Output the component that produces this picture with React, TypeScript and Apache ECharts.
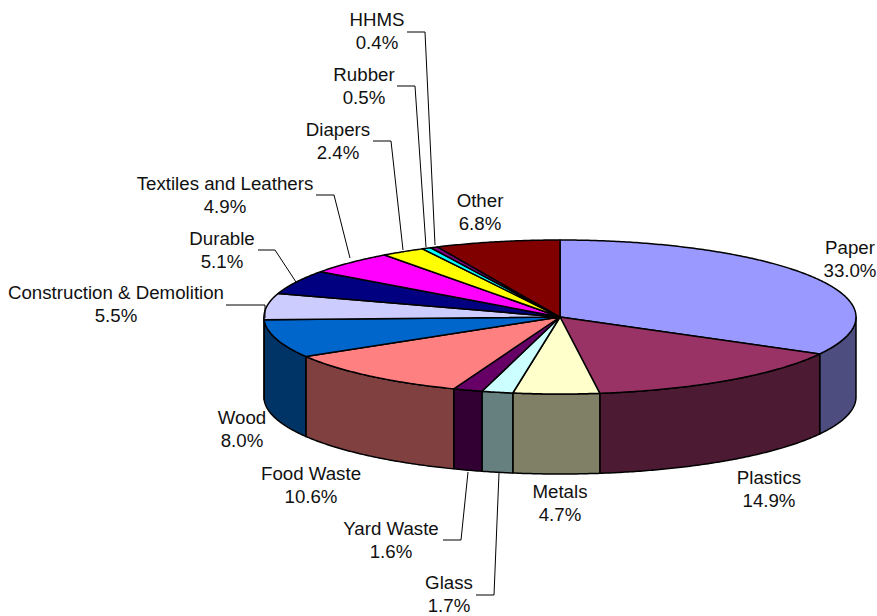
import React, { useEffect, useRef } from "react";
import * as echarts from "echarts";

const categories = ["Paper", "Plastics", "Metals", "Glass", "Yard Waste", "Food Waste", "Wood", "Construction & Demolition", "Durable", "Textiles and Leathers", "Diapers", "Rubber", "HHMS", "Other"];
const shares = [33.0, 14.9, 4.7, 1.7, 1.6, 10.6, 8.0, 5.5, 5.1, 4.9, 2.4, 0.5, 0.4, 6.8];
const topColors = ["#9999FF", "#993366", "#FFFFCC", "#CCFFFF", "#660066", "#FF8080", "#0066CC", "#CCCCFF", "#000080", "#FF00FF", "#FFFF00", "#00FFFF", "#800080", "#800000"];
const wallColors = ["#4D4D80", "#4D1A33", "#808066", "#668080", "#330033", "#804040", "#003366", "#666680", "#000040", "#800080", "#808000", "#008080", "#400040", "#400000"];

// Label layout: [centre x, first line centre y]
const labelAnchors: number[][] = [[850, 247], [769, 477], [560, 491], [449, 582], [391, 528], [311, 473], [242, 417], [116, 292], [222, 238], [225, 183], [338, 129], [364, 74], [377, 19], [480, 200]];
// Leader lines, where the reference has them
const leaders: (number[][] | null)[] = [
  null, null, null,
  [[476, 595], [494, 595], [499, 473]],
  [[443, 540], [461, 540], [468, 472]],
  null, null,
  [[226, 305], [265, 305], [265, 318]],
  [[258, 250], [275, 250], [296, 282]],
  [[316, 195], [334, 195], [350, 258]],
  [[373, 141], [391, 141], [403, 250]],
  [[397, 86], [415, 86], [426, 247]],
  [[407, 32], [425, 32], [435, 245]],
  null,
];

const CX = 560, CY = 317, RX = 296, RY = 77, DEPTH = 80;
const total = shares.reduce((a, b) => a + b, 0);
const TEXT_FONT = '18.7px "Liberation Sans", Arial, sans-serif';
const TEXT_COLOR = "#111111";
const LINE_GAP = 23;

function sliceAngles(i: number): [number, number] {
  let before = 0;
  for (let k = 0; k < i; k++) before += shares[k];
  return [(before / total) * 360, ((before + shares[i]) / total) * 360];
}
function rim(deg: number, drop = 0): number[] {
  const a = (deg * Math.PI) / 180;
  return [CX + RX * Math.sin(a), CY - RY * Math.cos(a) + drop];
}
function arc(from: number, to: number, drop = 0): number[][] {
  const n = Math.max(2, Math.ceil((to - from) * 2));
  const pts: number[][] = [];
  for (let j = 0; j <= n; j++) pts.push(rim(from + ((to - from) * j) / n, drop));
  return pts;
}

const seriesData = shares.map((v, i) => ({ name: categories[i], value: v }));

export default function App() {
  const ref = useRef<HTMLDivElement>(null);
  useEffect(() => {
    document.body.style.margin = "0";
    const chart = echarts.init(ref.current!, undefined, { renderer: "svg" });
    chart.setOption({
      animation: false,
      backgroundColor: "#ffffff",
      tooltip: { show: false },
      series: [
        {
          type: "custom",
          coordinateSystem: "none",
          silent: true,
          z: 1,
          data: seriesData,
          renderItem: (params: any) => {
            const i = params.dataIndex;
            const [s, e] = sliceAngles(i);
            const from = Math.max(s, 90), to = Math.min(e, 270);
            if (to <= from) return { type: "group", children: [] };
            const points = [...arc(from, to), ...arc(from, to, DEPTH).reverse()];
            return {
              type: "polygon",
              shape: { points },
              style: { fill: wallColors[i], stroke: "#000", lineWidth: 1.5, lineJoin: "round" },
            };
          },
        },
        {
          type: "custom",
          coordinateSystem: "none",
          silent: true,
          z: 2,
          data: seriesData,
          renderItem: (params: any) => {
            const i = params.dataIndex;
            const [s, e] = sliceAngles(i);
            return {
              type: "polygon",
              shape: { points: [[CX, CY], ...arc(s, e)] },
              style: { fill: topColors[i], stroke: "#000", lineWidth: 1.5, lineJoin: "round" },
            };
          },
        },
        {
          type: "custom",
          coordinateSystem: "none",
          silent: true,
          z: 3,
          data: seriesData,
          renderItem: (params: any, api: any) => {
            const i = params.dataIndex;
            const [x, y] = labelAnchors[i];
            const children: any[] = [
              { type: "text", style: { x, y, text: categories[i], textAlign: "center", textVerticalAlign: "middle", font: TEXT_FONT, fill: TEXT_COLOR } },
              { type: "text", style: { x, y: y + LINE_GAP, text: `${Number(api.value(0)).toFixed(1)}%`, textAlign: "center", textVerticalAlign: "middle", font: TEXT_FONT, fill: TEXT_COLOR } },
            ];
            const leader = leaders[i];
            if (leader) {
              children.push({ type: "polyline", shape: { points: leader }, style: { fill: "none", stroke: "#000", lineWidth: 1 } });
            }
            return { type: "group", children };
          },
        },
      ],
    });
    return () => chart.dispose();
  }, []);
  return <div ref={ref} style={{ width: 877, height: 616 }} />;
}
